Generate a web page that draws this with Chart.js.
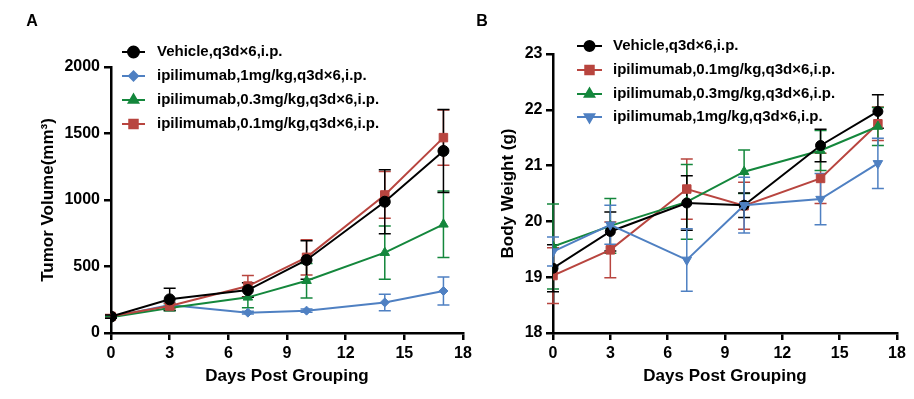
<!DOCTYPE html>
<html>
<head>
<meta charset="utf-8">
<script src="https://cdn.jsdelivr.net/npm/chart.js@4.4.1/dist/chart.umd.min.js"></script>
<style>
  html, body { margin:0; padding:0; background:#fff; }
  #wrap { position:relative; width:914px; height:399px; }
  canvas { position:absolute; left:0; top:0; }
</style>
</head>
<body>
<div id="wrap">
  <canvas id="cA" width="914" height="399"></canvas>
  <canvas id="cB" width="914" height="399"></canvas>
</div>
<script>
// ---------- data ----------
const days = [0, 3, 7, 10, 14, 17];
const xTicks = [0, 3, 6, 9, 12, 15, 18];

// Panel A: tumor volume (mm3), mean and SEM
const tvVehicle = [123, 253, 323, 549, 987, 1369];
const tvVehicleErr = [12, 83, 55, 145, 240, 312];
const tv1mg = [120, 210, 153, 168, 230, 316];
const tv1mgErr = [8, 15, 10, 12, 62, 105];
const tv03mg = [118, 188, 268, 393, 604, 817];
const tv03mgErr = [8, 20, 78, 130, 200, 250];
const tv01mg = [125, 203, 353, 569, 1038, 1469];
const tv01mgErr = [15, 20, 80, 133, 176, 207];

// Panel B: body weight (g), mean and SEM
const bwVehicle = [19.16, 19.82, 20.33, 20.29, 21.36, 21.97];
const bwVehicleErr = [0.42, 0.35, 0.49, 0.22, 0.29, 0.30];
const bw01mg = [19.03, 19.49, 20.58, 20.28, 20.77, 21.75];
const bw01mgErr = [0.50, 0.50, 0.54, 0.42, 0.45, 0.30];
const bw03mg = [19.55, 19.92, 20.35, 20.89, 21.27, 21.70];
const bw03mgErr = [0.76, 0.49, 0.67, 0.39, 0.36, 0.34];
const bw1mg = [19.46, 19.94, 19.31, 20.29, 20.40, 21.04];
const bw1mgErr = [0.26, 0.35, 0.56, 0.50, 0.46, 0.45];

const labelsA = ['Vehicle,q3d×6,i.p.', 'ipilimumab,1mg/kg,q3d×6,i.p.', 'ipilimumab,0.3mg/kg,q3d×6,i.p.', 'ipilimumab,0.1mg/kg,q3d×6,i.p.'];
const labelsB = ['Vehicle,q3d×6,i.p.', 'ipilimumab,0.1mg/kg,q3d×6,i.p.', 'ipilimumab,0.3mg/kg,q3d×6,i.p.', 'ipilimumab,1mg/kg,q3d×6,i.p.'];

// ---------- styles ----------
const FONT = 'Arial, "Liberation Sans", sans-serif';
const C_BLACK = '#000000', C_BLUE = '#4f80c2', C_GREEN = '#14873c', C_RED = '#b8453f';

function pts(vals) { return days.map((d, i) => ({ x: d, y: vals[i] })); }

function ds(label, vals, errs, color, style, radius, rotation, order) {
  return {
    label, data: pts(vals), errs,
    borderColor: color, backgroundColor: color,
    borderWidth: 2, pointStyle: style, pointRadius: radius,
    pointRotation: rotation || 0, pointBorderWidth: 1, pointBorderColor: color,
    pointBackgroundColor: color, tension: 0, order: order
  };
}

const errorBars = {
  id: 'errorBars',
  beforeDatasetsDraw(chart) {
    const ctx = chart.ctx, xs = chart.scales.x, ys = chart.scales.y;
    const metas = chart.getSortedVisibleDatasetMetas();
    ctx.save();
    for (let k = metas.length - 1; k >= 0; k--) {
      const dset = chart.data.datasets[metas[k].index];
      ctx.strokeStyle = dset.borderColor;
      ctx.lineWidth = 1.5;
      dset.data.forEach((p, j) => {
        const e = dset.errs[j];
        const x = xs.getPixelForValue(p.x);
        const y1 = ys.getPixelForValue(p.y + e), y2 = ys.getPixelForValue(p.y - e);
        ctx.beginPath();
        ctx.moveTo(x, y1); ctx.lineTo(x, y2);
        ctx.moveTo(x - 6, y1); ctx.lineTo(x + 6, y1);
        ctx.moveTo(x - 6, y2); ctx.lineTo(x + 6, y2);
        ctx.stroke();
      });
    }
    ctx.restore();
  }
};

const customLegend = {
  id: 'customLegend',
  afterDraw(chart, args, opts) {
    const ctx = chart.ctx;
    ctx.save();
    chart.data.datasets.forEach((d, i) => {
      const y = opts.rows[i];
      ctx.strokeStyle = d.borderColor; ctx.lineWidth = 2;
      ctx.beginPath(); ctx.moveTo(opts.x0, y); ctx.lineTo(opts.x1, y); ctx.stroke();
      ctx.fillStyle = d.borderColor;
      Chart.helpers.drawPoint(ctx, {
        pointStyle: d.pointStyle, radius: d.pointRadius, rotation: d.pointRotation, borderWidth: 1
      }, (opts.x0 + opts.x1) / 2, y);
      ctx.fill();
      ctx.fillStyle = '#000';
      ctx.font = 'bold 15px ' + FONT;
      ctx.textBaseline = 'middle'; ctx.textAlign = 'left';
      ctx.fillText(d.label, opts.tx, y);
    });
    ctx.font = 'bold 16px ' + FONT;
    ctx.textAlign = 'center'; ctx.textBaseline = 'middle';
    ctx.fillText(opts.letter, opts.lx, opts.ly);
    ctx.restore();
  }
};

function axisCommon(titleText, titlePad, fitFn) {
  return {
    type: 'linear',
    grid: { display: true, drawOnChartArea: false, drawTicks: true, tickLength: 7, color: '#000', lineWidth: 2.5 },
    border: { display: true, color: '#000', width: 2.5 },
    ticks: { color: '#000', font: { family: FONT, size: 16, weight: 'bold' }, padding: 4, callback: v => String(v) },
    title: { display: true, text: titleText, color: '#000', font: { family: FONT, size: 17, weight: 'bold' }, padding: titlePad },
    afterFit: fitFn
  };
}

function makeChart(id, datasets, opt) {
  const xAxis = axisCommon('Days Post Grouping', { top: 0, bottom: 12 }, s => { s.height = 66; });
  xAxis.min = 0; xAxis.max = 18;
  xAxis.afterBuildTicks = s => { s.ticks = xTicks.map(v => ({ value: v })); };
  const yAxis = axisCommon(opt.yTitle, { top: opt.yTitlePad, bottom: 0 }, s => { s.width = opt.yWidth; });
  yAxis.min = opt.yMin; yAxis.max = opt.yMax;
  yAxis.afterBuildTicks = s => { s.ticks = opt.yTicks.map(v => ({ value: v })); };
  yAxis.ticks.padding = opt.yTickPad;
  return new Chart(document.getElementById(id), {
    type: 'line',
    data: { datasets },
    options: {
      responsive: false, animation: false, events: [],
      layout: { padding: opt.padding },
      plugins: { legend: { display: false }, tooltip: { enabled: false }, customLegend: opt.legend },
      scales: { x: xAxis, y: yAxis }
    },
    plugins: [errorBars, customLegend]
  });
}

const tvTicks = [0, 500, 1000, 1500, 2000];
const bwTicks = [18, 19, 20, 21, 22, 23];

makeChart('cA', [
  ds(labelsA[0], tvVehicle, tvVehicleErr, C_BLACK, 'circle', 5.5, 0, 0),
  ds(labelsA[1], tv1mg, tv1mgErr, C_BLUE, 'rectRot', 4.5, 0, 3),
  ds(labelsA[2], tv03mg, tv03mgErr, C_GREEN, 'triangle', 5.5, 0, 2),
  ds(labelsA[3], tv01mg, tv01mgErr, C_RED, 'rect', 6, 0, 1)
], {
  yTitle: 'Tumor Volume(mm³)', yTitlePad: 38, yWidth: 111, yMin: 0, yMax: 2000, yTicks: tvTicks, yTickPad: 4,
  padding: { left: 0, top: 67, right: 914 - 463, bottom: 0 },
  legend: { x0: 122, x1: 145, tx: 157, rows: [52, 76, 100, 124], letter: 'A', lx: 32, ly: 22 }
});

makeChart('cB', [
  ds(labelsB[0], bwVehicle, bwVehicleErr, C_BLACK, 'circle', 5, 0, 1),
  ds(labelsB[1], bw01mg, bw01mgErr, C_RED, 'rect', 6, 0, 3),
  ds(labelsB[2], bw03mg, bw03mgErr, C_GREEN, 'triangle', 5.5, 0, 2),
  ds(labelsB[3], bw1mg, bw1mgErr, C_BLUE, 'triangle', 5.5, 180, 0)
], {
  yTitle: 'Body Weight (g)', yTitlePad: 41, yWidth: 96, yMin: 18, yMax: 23, yTicks: bwTicks, yTickPad: 3.5,
  padding: { left: 457, top: 54, right: 914 - 897, bottom: 0 },
  legend: { x0: 577, x1: 602, tx: 613, rows: [46, 70, 94, 117], letter: 'B', lx: 482, ly: 22 }
});
</script>
</body>
</html>
